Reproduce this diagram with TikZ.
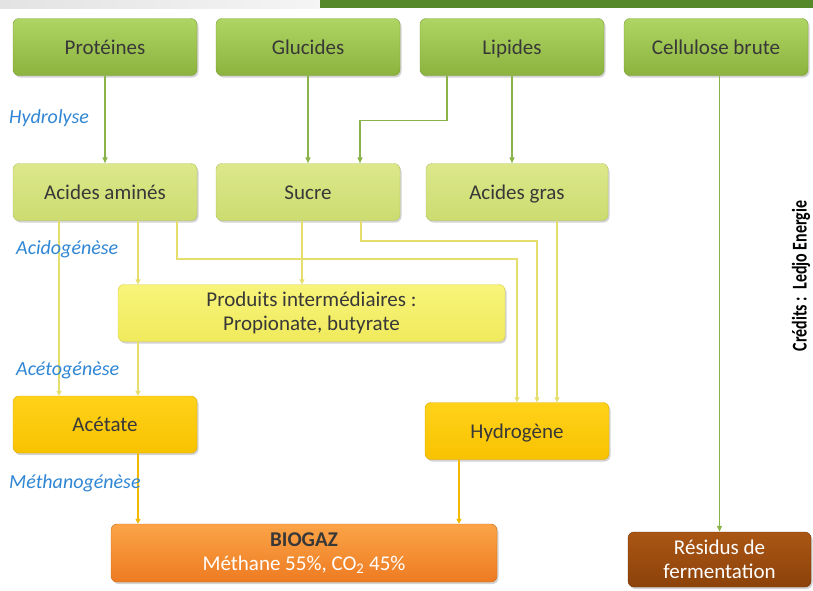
\documentclass[tikz,border=0pt]{standalone}
\usepackage{fontspec}
\setmainfont{Carlito}
\newfontfamily\credfont[FakeStretch=0.76]{Carlito}
\usetikzlibrary{shadows,arrows.meta,calc}
\definecolor{gtop}{HTML}{AED463}
\definecolor{gbot}{HTML}{8CB33E}
\definecolor{gbord}{HTML}{7C9E3A}
\definecolor{ltop}{HTML}{DCE88A}
\definecolor{lbot}{HTML}{CCDC70}
\definecolor{lbord}{HTML}{AFC25C}
\definecolor{ptop}{HTML}{F8F47A}
\definecolor{pbot}{HTML}{F0EA5C}
\definecolor{pbord}{HTML}{D6CE4C}
\definecolor{otop}{HTML}{FFD21A}
\definecolor{obot}{HTML}{F8C200}
\definecolor{obord}{HTML}{DDA800}
\definecolor{btop}{HTML}{FBA447}
\definecolor{bbot}{HTML}{EE7B22}
\definecolor{bbord}{HTML}{CC6A14}
\definecolor{rtop}{HTML}{AA5614}
\definecolor{rbot}{HTML}{8C420A}
\definecolor{rbord}{HTML}{703408}
\definecolor{txtc}{HTML}{383838}
\definecolor{labc}{HTML}{2F86D4}
\definecolor{glin}{HTML}{8AB44A}
\definecolor{ylin}{HTML}{E6DE6C}
\definecolor{olin}{HTML}{F3B800}
\definecolor{barg}{HTML}{55892A}
\tikzset{
  bx/.style={rounded corners=6pt, minimum width=184pt, minimum height=57pt,
    inner sep=2pt, align=center, text=txtc, font=\fontsize{21}{24.5}\selectfont,
    drop shadow={shadow xshift=1.5pt, shadow yshift=-2pt, opacity=0.35}},
  one/.style={text height=16pt, text depth=2pt},
  gbox/.style={bx, draw=gbord, top color=gtop, bottom color=gbot},
  lbox/.style={bx, draw=lbord, top color=ltop, bottom color=lbot},
  pbox/.style={bx, draw=pbord, top color=ptop, bottom color=pbot},
  obox/.style={bx, draw=obord, top color=otop, bottom color=obot},
  bbox/.style={bx, draw=bbord, top color=btop, bottom color=bbot},
  rbox/.style={bx, draw=rbord, top color=rtop, bottom color=rbot, text=white},
  lab/.style={anchor=west, inner sep=0pt, text=labc, font=\itshape\fontsize{20}{22}\selectfont},
  garr/.style={draw=glin, line width=1.3pt, -{Triangle[length=6pt,width=5pt]}},
  yarr/.style={draw=ylin, line width=1.6pt, -{Triangle[length=5pt,width=5pt]}},
  oarr/.style={draw=olin, line width=1.6pt, -{Triangle[length=5pt,width=5pt]}}
}
\begin{document}
\begin{tikzpicture}[x=1pt,y=-1pt]
\useasboundingbox (0,0) rectangle (813,590);
\fill[left color=gray!22, right color=gray!8] (0,0) rectangle (320,8);
\fill[barg] (320,0) rectangle (813,8);
% nodes
\node[gbox, one] (prot) at (105,47) {Protéines};
\node[gbox, one] (gluc) at (308,47) {Glucides};
\node[gbox, one] (lip) at (512,47) {Lipides};
\node[gbox, one] (cell) at (716,47) {Cellulose brute};
\node[lbox, one] (aa) at (105,192) {Acides aminés};
\node[lbox, one] (suc) at (308,192) {Sucre};
\node[lbox, one, minimum width=182pt] (ag) at (517,192) {Acides gras};
\node[pbox, minimum width=387pt] (prod) at (311.5,313) {Produits intermédiaires :\\Propionate, butyrate};
\node[obox, one] (acet) at (105,424.5) {Acétate};
\node[obox, one] (hyd) at (517,431) {Hydrogène};
\node[bbox, minimum width=386pt, minimum height=58pt] (bio) at (304,553) {\textbf{BIOGAZ}\\\textcolor{white}{Méthane 55\%, CO\textsubscript{2} 45\%}};
\node[rbox, minimum width=183pt, minimum height=55pt] (res) at (719.5,559.5) {Résidus de\\fermentation};
% hydrolyse connectors
\draw[garr] (prot.south) -- (aa.north);
\draw[garr] (gluc.south) -- (suc.north);
\draw[garr] ([xshift=-65pt]lip.south) -- ++(0,45) -| ([xshift=52pt]suc.north);
\draw[garr] (lip.south) -- (lip.south |- ag.north);
\draw[garr] (cell.south -| res.north) -- (res.north);
% acidogenese connectors
\draw[yarr] ([xshift=-46pt]aa.south) -- ([xshift=-46pt]acet.north);
\draw[yarr] ([xshift=33pt]aa.south) -- ([xshift=33pt]aa.south |- prod.north);
\draw[yarr] ([xshift=72pt]aa.south) -- ++(0,38) -| (hyd.north);
\draw[yarr] ([xshift=-6pt]suc.south) -- ([xshift=-6pt]suc.south |- prod.north);
\draw[yarr] ([xshift=53pt]suc.south) -- ++(0,20) -| ([xshift=20pt]hyd.north);
\draw[yarr] ([xshift=40pt]ag.south) -- ([xshift=40pt]hyd.north);
% acetogenese
\draw[yarr] ([xshift=33pt]acet.north |- prod.south) -- ([xshift=33pt]acet.north);
% methanogenese
\draw[oarr] ([xshift=33pt]acet.south) -- ([xshift=33pt]acet.south |- bio.north);
\draw[oarr] ([xshift=-58pt]hyd.south) -- ([xshift=-58pt]hyd.south |- bio.north);
% labels
\node[lab] (l1) at (9,118) {Hydrolyse};
\node[lab] (l2) at (16,249) {Acidogénèse};
\node[lab] (l3) at (16,370) {Acétogénèse};
\node[lab] (l4) at (9,483) {Méthanogénèse};
\node[rotate=90, inner sep=0pt, text=black, font=\credfont\bfseries\fontsize{21}{23}\selectfont] (cred) at (801,276) {Crédits :\ \ Ledjo Energie};
\end{tikzpicture}
\end{document}
